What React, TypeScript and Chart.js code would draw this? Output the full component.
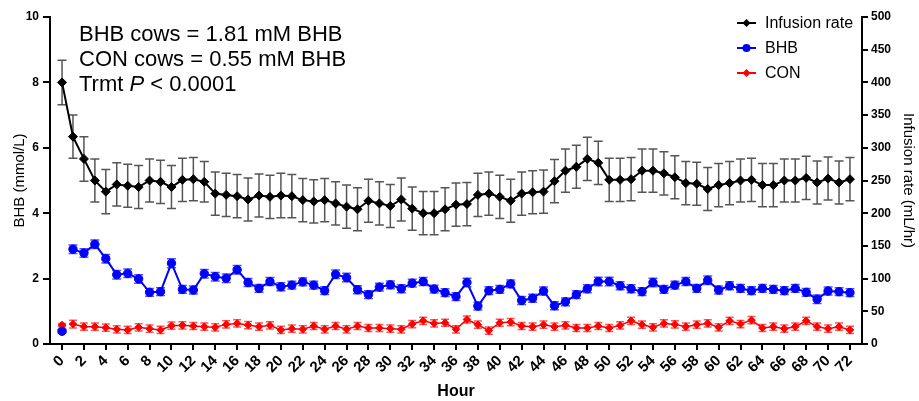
import React, { useEffect, useRef } from "react";
import { Chart, registerables } from "chart.js";

Chart.register(...registerables);

const FONT = '"Liberation Sans", Arial, Helvetica, sans-serif';

const hours = [
  0, 1, 2, 3, 4, 5, 6, 7, 8, 9, 10, 11, 12, 13, 14, 15, 16, 17, 18, 19, 20, 21, 22, 23, 24,
  25, 26, 27, 28, 29, 30, 31, 32, 33, 34, 35, 36, 37, 38, 39, 40, 41, 42, 43, 44, 45, 46, 47, 48,
  49, 50, 51, 52, 53, 54, 55, 56, 57, 58, 59, 60, 61, 62, 63, 64, 65, 66, 67, 68, 69, 70, 71, 72,
];

const xTickValues = [
  0, 2, 4, 6, 8, 10, 12, 14, 16, 18, 20, 22, 24, 26, 28, 30, 32, 34, 36, 38, 40, 42, 44, 46, 48,
  50, 52, 54, 56, 58, 60, 62, 64, 66, 68, 70, 72,
];

// Infusion rate (mL/hr), right axis
const infusionRate = [
  400, 317, 283, 250, 233, 244, 242, 240, 250, 248, 240, 251, 252, 248, 230, 228, 226, 221, 227,
  225, 227, 226, 220, 218, 220, 215, 210, 206, 219, 215, 211, 221, 207, 200, 200, 206, 213, 214,
  228, 230, 225, 219, 230, 232, 233, 249, 265, 271, 283, 277, 251, 251, 252, 265, 265, 261, 255,
  246, 245, 237, 243, 246, 250, 251, 243, 243, 250, 250, 254, 247, 253, 247, 252,
];
const infusionSE = [
  34, 33, 34, 33, 34, 33, 33, 33, 33, 33, 33, 33, 33, 31, 33, 33, 33, 33, 33, 33, 34, 33, 33, 33,
  33, 33, 33, 33, 33, 33, 33, 33, 33, 33, 33, 33, 33, 33, 33, 33, 33, 33, 33, 33, 33, 33, 33, 33,
  33, 33, 33, 33, 33, 33, 33, 33, 33, 33, 33, 33, 33, 33, 33, 33, 33, 33, 33, 33, 33, 33, 33, 33,
  33,
];

// BHB (mmol/L), left axis
const bhbValues = [
  0.39, 2.9, 2.78, 3.05, 2.61, 2.12, 2.16, 1.99, 1.58, 1.6, 2.47, 1.67, 1.65, 2.15, 2.06, 2.01,
  2.27, 1.88, 1.7, 1.91, 1.75, 1.8, 1.9, 1.8, 1.63, 2.13, 2.03, 1.66, 1.51, 1.74, 1.81, 1.69, 1.86,
  1.91, 1.68, 1.57, 1.45, 1.88, 1.16, 1.63, 1.67, 1.84, 1.33, 1.4, 1.62, 1.17, 1.29, 1.51, 1.69,
  1.91, 1.91, 1.78, 1.69, 1.6, 1.88, 1.67, 1.8, 1.91, 1.7, 1.95, 1.65, 1.78, 1.7, 1.63, 1.7, 1.67,
  1.63, 1.7, 1.58, 1.37, 1.62, 1.6, 1.57,
];
const bhbSE = [
  0.05, 0.13, 0.13, 0.13, 0.13, 0.13, 0.13, 0.13, 0.12, 0.12, 0.14, 0.12, 0.12, 0.13, 0.13, 0.13,
  0.13, 0.12, 0.12, 0.12, 0.12, 0.12, 0.12, 0.12, 0.12, 0.13, 0.13, 0.12, 0.12, 0.12, 0.12, 0.12,
  0.12, 0.12, 0.12, 0.12, 0.12, 0.13, 0.12, 0.12, 0.12, 0.12, 0.12, 0.12, 0.12, 0.12, 0.12, 0.12,
  0.12, 0.13, 0.13, 0.12, 0.12, 0.12, 0.13, 0.12, 0.12, 0.12, 0.12, 0.13, 0.12, 0.12, 0.12, 0.12,
  0.12, 0.12, 0.12, 0.12, 0.12, 0.13, 0.12, 0.12, 0.12,
];

// CON (mmol/L), left axis
const conValues = [
  0.58, 0.61, 0.53, 0.53, 0.5, 0.45, 0.43, 0.51, 0.47, 0.43, 0.56, 0.57, 0.55, 0.53, 0.51, 0.6,
  0.63, 0.58, 0.53, 0.57, 0.43, 0.47, 0.45, 0.55, 0.45, 0.55, 0.45, 0.55, 0.49, 0.49, 0.47, 0.45,
  0.61, 0.71, 0.63, 0.65, 0.45, 0.75, 0.59, 0.41, 0.65, 0.67, 0.55, 0.53, 0.59, 0.53, 0.57, 0.49,
  0.49, 0.55, 0.49, 0.57, 0.71, 0.59, 0.51, 0.63, 0.6, 0.53, 0.59, 0.63, 0.51, 0.71, 0.61, 0.73,
  0.49, 0.53, 0.47, 0.53, 0.71, 0.53, 0.47, 0.53, 0.43,
];
const conSE = [
  0.05, 0.12, 0.11, 0.11, 0.11, 0.11, 0.11, 0.11, 0.11, 0.11, 0.11, 0.11, 0.11, 0.11, 0.11, 0.11,
  0.11, 0.11, 0.11, 0.11, 0.11, 0.11, 0.11, 0.11, 0.11, 0.11, 0.11, 0.11, 0.11, 0.11, 0.11, 0.11,
  0.11, 0.11, 0.11, 0.11, 0.11, 0.11, 0.11, 0.11, 0.11, 0.11, 0.11, 0.11, 0.11, 0.11, 0.11, 0.11,
  0.11, 0.11, 0.11, 0.11, 0.11, 0.11, 0.11, 0.11, 0.11, 0.11, 0.11, 0.11, 0.11, 0.11, 0.11, 0.11,
  0.11, 0.11, 0.11, 0.11, 0.11, 0.11, 0.11, 0.11, 0.11,
];

const annotationLines = ["BHB cows = 1.81 mM BHB", "CON cows = 0.55 mM BHB"];
const pLinePrefix = "Trmt ";
const pLineItalic = "P";
const pLineSuffix = " < 0.0001";

const errorBarPlugin = {
  id: "errorBars",
  beforeDatasetsDraw(chart: any) {
    const ctx = chart.ctx;
    chart.data.datasets.forEach((ds: any, i: number) => {
      const se: number[] | undefined = ds.errors;
      if (!se) return;
      const meta = chart.getDatasetMeta(i);
      const scale = chart.scales[meta.yAxisID];
      const cap = ds.errorCap ?? 4;
      ctx.save();
      ctx.strokeStyle = ds.errorColor;
      ctx.lineWidth = ds.errorWidth ?? 1.5;
      meta.data.forEach((pt: any, j: number) => {
        const v = ds.data[j].y;
        const yTop = scale.getPixelForValue(v + se[j]);
        const yBot = scale.getPixelForValue(v - se[j]);
        const x = pt.x;
        ctx.beginPath();
        ctx.moveTo(x, yTop);
        ctx.lineTo(x, yBot);
        ctx.moveTo(x - cap, yTop);
        ctx.lineTo(x + cap, yTop);
        ctx.moveTo(x - cap, yBot);
        ctx.lineTo(x + cap, yBot);
        ctx.stroke();
      });
      ctx.restore();
    });
  },
};

function drawMarker(ctx: CanvasRenderingContext2D, style: string, x: number, y: number, r: number, color: string) {
  ctx.fillStyle = color;
  ctx.beginPath();
  if (style === "circle") {
    ctx.arc(x, y, r, 0, Math.PI * 2);
  } else {
    ctx.moveTo(x, y - r);
    ctx.lineTo(x + r, y);
    ctx.lineTo(x, y + r);
    ctx.lineTo(x - r, y);
    ctx.closePath();
  }
  ctx.fill();
}

const overlayPlugin = {
  id: "overlay",
  afterDraw(chart: any) {
    const ctx: CanvasRenderingContext2D = chart.ctx;
    ctx.save();
    ctx.fillStyle = "#000";
    ctx.textBaseline = "alphabetic";
    ctx.textAlign = "left";
    const normal = `22px ${FONT}`;
    ctx.font = normal;
    ctx.fillText(annotationLines[0], 79, 41);
    ctx.fillText(annotationLines[1], 79, 66);
    let x = 79;
    ctx.fillText(pLinePrefix, x, 91);
    x += ctx.measureText(pLinePrefix).width;
    ctx.font = `italic 22px ${FONT}`;
    ctx.fillText(pLineItalic, x, 91);
    x += ctx.measureText(pLineItalic).width;
    ctx.font = normal;
    ctx.fillText(pLineSuffix, x, 91);

    // legend
    ctx.font = `16px ${FONT}`;
    ctx.textBaseline = "middle";
    chart.data.datasets.forEach((ds: any, k: number) => {
      const y = 23 + 25 * k;
      ctx.strokeStyle = ds.borderColor;
      ctx.lineWidth = 2;
      ctx.beginPath();
      ctx.moveTo(737, y);
      ctx.lineTo(756, y);
      ctx.stroke();
      drawMarker(ctx, ds.pointStyle === "circle" ? "circle" : "diamond", 746.5, y, ds.pointStyle === "circle" ? 4 : 4, ds.borderColor);
      ctx.fillStyle = "#000";
      ctx.fillText(ds.label, 765, y + 1);
    });
    ctx.restore();
  },
};

export default function App() {
  const canvasRef = useRef<HTMLCanvasElement | null>(null);

  useEffect(() => {
    if (!canvasRef.current) return;
    Chart.defaults.font.family = FONT;
    Chart.defaults.color = "#000";
    const hideFirst = {
      borderColor: (c: any) => (c.p0DataIndex === 0 ? "rgba(0,0,0,0)" : undefined),
    };
    const chart = new Chart(canvasRef.current, {
      type: "line",
      data: {
        datasets: [
          {
            label: "Infusion rate",
            data: hours.map((h, i) => ({ x: h, y: infusionRate[i] })),
            yAxisID: "y2",
            borderColor: "#000000",
            backgroundColor: "#000000",
            borderWidth: 2,
            pointStyle: "rectRot",
            pointRadius: 4.5,
            pointBorderWidth: 1,
            pointBackgroundColor: "#000000",
            pointBorderColor: "#000000",
            order: 2,
            errors: infusionSE,
            errorColor: "#555555",
            errorWidth: 1.5,
            errorCap: 4.5,
          } as any,
          {
            label: "BHB",
            data: hours.map((h, i) => ({ x: h, y: bhbValues[i] })),
            yAxisID: "y",
            borderColor: "#0000ff",
            backgroundColor: "#0000ff",
            borderWidth: 2,
            pointStyle: "circle",
            pointRadius: 4.2,
            pointBorderWidth: 1,
            pointBackgroundColor: "#0000ff",
            pointBorderColor: "#0000ff",
            segment: hideFirst,
            order: 0,
            errors: bhbSE,
            errorColor: "#5555ff",
            errorWidth: 1.5,
            errorCap: 4.5,
          } as any,
          {
            label: "CON",
            data: hours.map((h, i) => ({ x: h, y: conValues[i] })),
            yAxisID: "y",
            borderColor: "#ff0000",
            backgroundColor: "#ff0000",
            borderWidth: 1.5,
            pointStyle: "rectRot",
            pointRadius: 3.8,
            pointBorderWidth: 1,
            pointBackgroundColor: "#ff0000",
            pointBorderColor: "#ff0000",
            segment: hideFirst,
            order: 1,
            errors: conSE,
            errorColor: "#ff5555",
            errorWidth: 1.5,
            errorCap: 4,
          } as any,
        ],
      },
      options: {
        animation: false,
        responsive: false,
        maintainAspectRatio: false,
        layout: { padding: { top: 17, left: 0, right: 0, bottom: 0 } },
        plugins: {
          legend: { display: false },
          tooltip: { enabled: false },
        },
        scales: {
          x: {
            type: "linear",
            min: -1.1,
            max: 73.1,
            afterBuildTicks: (s: any) => {
              s.ticks = xTickValues.map((v) => ({ value: v }));
            },
            afterFit: (s: any) => {
              s.height = 57;
            },
            ticks: {
              autoSkip: false,
              minRotation: 45,
              maxRotation: 45,
              padding: 2,
              color: "#000",
              font: { size: 15, weight: "bold" },
              callback: (v: any) => String(v),
            },
            grid: {
              drawOnChartArea: false,
              drawTicks: true,
              tickLength: 6,
              color: "#000",
              lineWidth: 2,
            },
            border: { display: true, color: "#000", width: 2 },
            title: {
              display: true,
              text: "Hour",
              color: "#000",
              font: { size: 16, weight: "bold" },
              padding: { top: 0, bottom: 0 },
            },
          },
          y: {
            type: "linear",
            position: "left",
            min: 0,
            max: 10,
            afterFit: (s: any) => {
              s.width = 50;
            },
            ticks: {
              stepSize: 2,
              padding: 4,
              color: "#000",
              font: { size: 12, weight: "bold" },
            },
            grid: {
              drawOnChartArea: false,
              drawTicks: true,
              tickLength: 7,
              color: "#000",
              lineWidth: 2,
            },
            border: { display: true, color: "#000", width: 2 },
            title: {
              display: true,
              text: "BHB (mmol/L)",
              color: "#000",
              font: { size: 15 },
              padding: { top: 11, bottom: 0 },
            },
          },
          y2: {
            type: "linear",
            position: "right",
            min: 0,
            max: 500,
            afterFit: (s: any) => {
              s.width = 57;
            },
            ticks: {
              stepSize: 50,
              padding: 3,
              color: "#000",
              font: { size: 12, weight: "bold" },
            },
            grid: {
              drawOnChartArea: false,
              drawTicks: true,
              tickLength: 6,
              color: "#000",
              lineWidth: 2,
            },
            border: { display: true, color: "#000", width: 2 },
            title: {
              display: true,
              text: "Infusion rate (mL/hr)",
              color: "#000",
              font: { size: 15 },
              padding: { top: 2, bottom: 0 },
            },
          },
        },
      } as any,
      plugins: [errorBarPlugin, overlayPlugin],
    });
    return () => chart.destroy();
  }, []);

  return (
    <div style={{ position: "absolute", left: 0, top: 0, width: 919, height: 401, background: "#fff" }}>
      <canvas ref={canvasRef} width={919} height={401} style={{ display: "block" }} />
    </div>
  );
}
